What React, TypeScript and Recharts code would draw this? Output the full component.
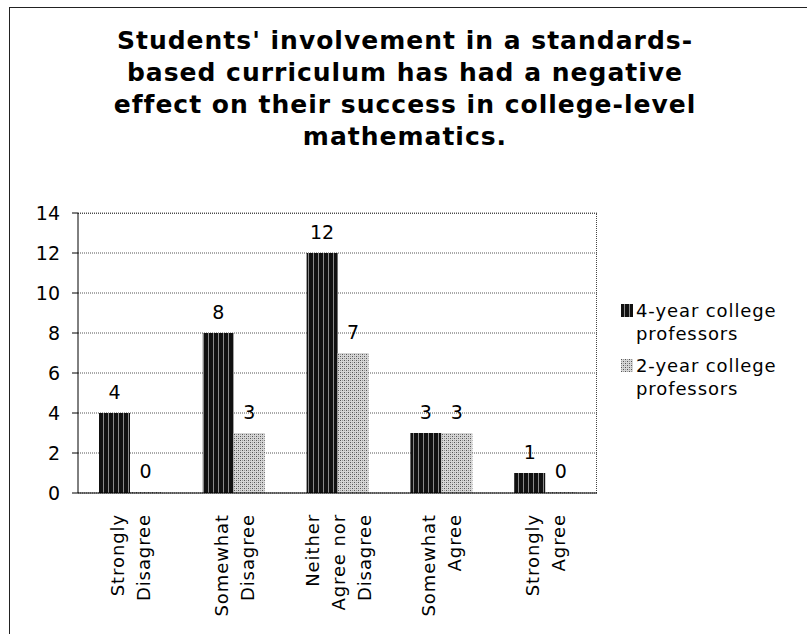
import { BarChart, Bar, XAxis, YAxis, CartesianGrid, LabelList } from "recharts";

const categories = [
  ["Strongly", "Disagree"],
  ["Somewhat", "Disagree"],
  ["Neither", "Agree nor", "Disagree"],
  ["Somewhat", "Agree"],
  ["Strongly", "Agree"],
];
const fourYear = [4, 8, 12, 3, 1];
const twoYear = [0, 3, 7, 3, 0];
const yTicks = [0, 2, 4, 6, 8, 10, 12, 14];
const seriesNames = ["4-year college professors", "2-year college professors"];
const titleLines = [
  "Students' involvement in a standards-",
  "based curriculum has had a negative",
  "effect on their success in college-level",
  "mathematics.",
];

const FONT = "'DejaVu Sans', Verdana, sans-serif";

const data = categories.map((c, i) => ({
  name: c.join(" "),
  four: fourYear[i],
  two: twoYear[i],
}));

function CategoryTick(props: any) {
  const { x, y, payload, index } = props;
  const lines: string[] = categories[index] ?? [payload.value];
  const n = lines.length;
  return (
    <g transform={`translate(${x},${y})`}>
      <text
        transform="rotate(-90)"
        textAnchor="end"
        fontSize={18}
        letterSpacing={0.9}
        fontFamily={FONT}
        fill="#000"
      >
        {lines.map((l, i) => (
          <tspan key={i} x={-13} y={(i - (n - 1) / 2) * 26 + 7}>
            {l}
          </tspan>
        ))}
      </text>
    </g>
  );
}

function Swatch({ kind }: { kind: number }) {
  return (
    <svg width={12} height={13} style={{ flex: "none", marginTop: 5 }}>
      <rect width={12} height={13} fill={kind === 0 ? "url(#stripes)" : "url(#checks)"} />
    </svg>
  );
}

function LegendBox() {
  return (
    <div
      style={{
        position: "absolute",
        left: 621,
        top: 299,
        width: 186,
        fontFamily: FONT,
        fontSize: 18,
        letterSpacing: 0.9,
        color: "#000",
        lineHeight: "23px",
      }}
    >
      {seriesNames.map((s, i) => (
        <div key={s} style={{ display: "flex", gap: 3, marginBottom: 9 }}>
          <Swatch kind={i} />
          <div style={{ width: 160 }}>{s}</div>
        </div>
      ))}
    </div>
  );
}

export default function App() {
  return (
    <div style={{ position: "absolute", left: 0, top: 0, width: 807, height: 634, background: "#fff", overflow: "hidden" }}>
      <div
        style={{
          position: "absolute",
          left: 9,
          top: 7,
          width: 820,
          height: 650,
          borderLeft: "1px solid #222",
          borderTop: "1px solid #222",
        }}
      />
      <div
        style={{
          position: "absolute",
          left: 0,
          top: 25,
          width: 810,
          textAlign: "center",
          fontFamily: FONT,
          fontWeight: "bold",
          fontSize: 25,
          letterSpacing: 1,
          lineHeight: "32px",
          color: "#000",
        }}
      >
        {titleLines.map((t) => (
          <div key={t}>{t}</div>
        ))}
      </div>
      <div
        style={{
          position: "absolute",
          left: 78,
          top: 213,
          width: 518,
          height: 279,
          border: "1px dotted #444",
          borderLeft: "none",
          borderBottom: "none",
        }}
      />
      <BarChart
        width={807}
        height={634}
        data={data}
        margin={{ top: 213, right: 210, bottom: 11, left: 38 }}
        barSize={31}
        barGap={0}
        style={{ position: "absolute", left: 0, top: 0 }}
      >
        <defs>
          <pattern id="stripes" patternUnits="userSpaceOnUse" width={5} height={4}>
            <rect width={5} height={4} fill="#111" />
            <rect x={3} width={1} height={4} fill="#8a8a8a" />
          </pattern>
          <pattern id="checks" patternUnits="userSpaceOnUse" width={4} height={4}>
            <rect width={4} height={4} fill="#d6d6d6" />
            <rect x={0} y={0} width={1} height={1} fill="#555" />
            <rect x={2} y={2} width={1} height={1} fill="#555" />
            <rect x={2} y={0} width={1} height={1} fill="#999" />
            <rect x={0} y={2} width={1} height={1} fill="#999" />
          </pattern>
        </defs>
        <CartesianGrid vertical={false} stroke="#555" strokeDasharray="1 1" />
        <XAxis
          dataKey="name"
          height={130}
          interval={0}
          tick={<CategoryTick />}
          tickLine={false}
          axisLine={{ stroke: "#000" }}
        />
        <YAxis
          domain={[0, 14]}
          ticks={yTicks}
          width={40}
          tickSize={6}
          tickMargin={12}
          tick={{ fontSize: 19, fill: "#000", fontFamily: FONT }}
          axisLine={{ stroke: "#000" }}
          tickLine={{ stroke: "#000" }}
        />
        <Bar dataKey="four" name={seriesNames[0]} fill="url(#stripes)" minPointSize={1} isAnimationActive={false}>
          <LabelList dataKey="four" position="top" offset={14} fill="#000" fontSize={19} fontFamily={FONT} />
        </Bar>
        <Bar dataKey="two" name={seriesNames[1]} fill="url(#checks)" minPointSize={1} isAnimationActive={false}>
          <LabelList dataKey="two" position="top" offset={14} fill="#000" fontSize={19} fontFamily={FONT} />
        </Bar>
      </BarChart>
      <LegendBox />
    </div>
  );
}
